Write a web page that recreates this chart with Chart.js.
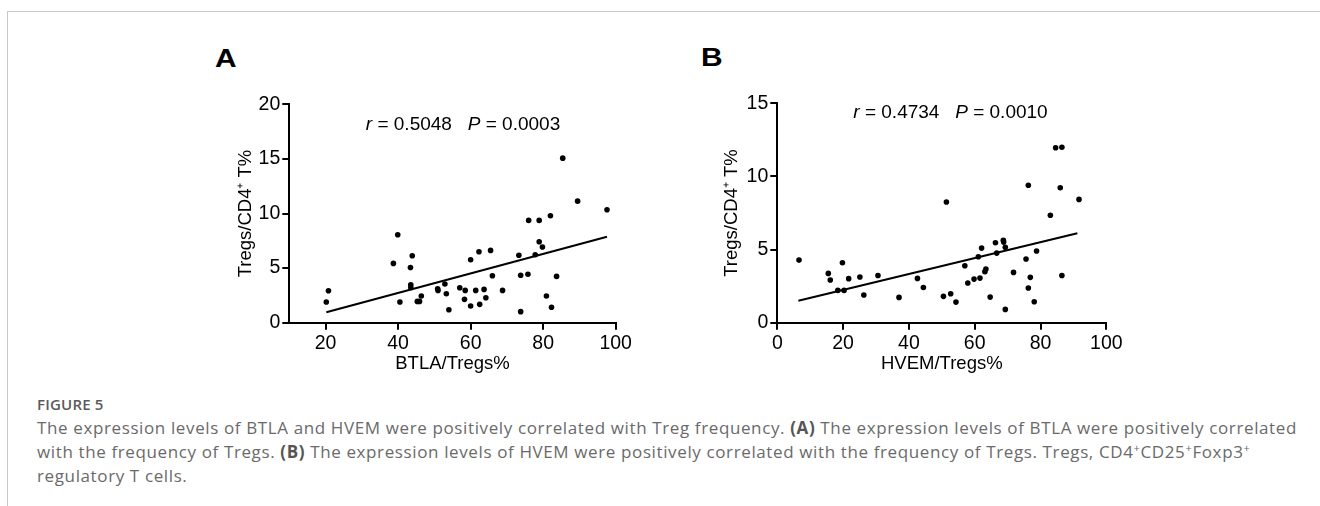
<!DOCTYPE html>
<html>
<head>
<meta charset="utf-8">
<script src="https://cdn.jsdelivr.net/npm/chart.js@4"></script>
<style>
  html, body { margin: 0; padding: 0; background: #fff; }
  body { width: 1320px; height: 506px; position: relative; overflow: hidden; }
  .frame { position: absolute; left: 7px; top: 11px; right: -2px; bottom: -2px;
           border-left: 1px solid #c8c8c8; border-top: 1px solid #c8c8c8; }
  .panel-label { position: absolute; font: bold 26px "Liberation Sans", Arial, sans-serif;
                 transform: scaleX(1.15); transform-origin: left top; color: #000; }
  canvas { position: absolute; }
  .caption { position: absolute; left: 37px; top: 392px; color: #6a6a6a;
             font-family: "Open Sans", sans-serif; font-size: 17px; letter-spacing: 0.62px; white-space: nowrap; }
  .caption .fig { color: #5a5a5a; font-weight: 600; font-size: 15px; letter-spacing: 0.2px; line-height: 24px; }
  .caption .line { line-height: 24px; height: 24px; }
  .caption b { color: #555; }
  .caption sup { font-size: 11px; line-height: 0; vertical-align: 6px; }
</style>
</head>
<body>
<div class="frame"></div>
<div class="panel-label" style="left:215px; top:43px;">A</div>
<div class="panel-label" style="left:701px; top:42px;">B</div>
<canvas id="chartA" width="440" height="300" style="left:200px; top:80px;"></canvas>
<canvas id="chartB" width="440" height="300" style="left:690px; top:80px;"></canvas>
<div class="caption">
  <div class="fig">FIGURE 5</div>
  <div class="line">The expression levels of BTLA and HVEM were positively correlated with Treg frequency. <b>(A)</b> The expression levels of BTLA were positively correlated</div>
  <div class="line">with the frequency of Tregs. <b>(B)</b> The expression levels of HVEM were positively correlated with the frequency of Tregs. Tregs, CD4<sup>+</sup>CD25<sup>+</sup>Foxp3<sup>+</sup></div>
  <div class="line">regulatory T cells.</div>
</div>
<script>
// Panel A: BTLA/Tregs% vs Tregs/CD4+ T%
const btlaX = [20.2, 20.8, 38.7, 39.9, 40.5, 43.4, 43.5, 43.5, 43.9, 45.3, 45.9, 46.4, 50.9, 51.0, 52.9, 53.3,
  54.0, 57.0, 58.3, 58.5, 60.0, 60.0, 61.4, 62.3, 62.5, 63.7, 64.2, 65.5, 66.0, 68.8, 73.3, 73.8, 73.8,
  75.8, 76.0, 77.8, 78.9, 78.9, 79.8, 80.9, 82.0, 82.3, 83.7, 85.4, 89.5, 97.6];
const btlaY = [1.89, 2.93, 5.43, 8.05, 1.89, 5.06, 3.48, 3.23, 6.13, 1.95, 1.95, 2.44, 3.11, 2.96, 3.54, 2.65,
  1.19, 3.20, 2.14, 2.96, 5.77, 1.53, 2.96, 6.50, 1.68, 3.05, 2.29, 6.62, 4.30, 2.96, 6.17, 4.34, 1.01,
  4.43, 9.37, 6.22, 9.37, 7.41, 6.93, 2.44, 9.79, 1.41, 4.24, 15.07, 11.13, 10.34];
const btlaFitX = [20.2, 97.6];
const btlaFitY = [0.95, 7.87];
const btlaXTicks = [20, 40, 60, 80, 100];
const btlaYTicks = [0, 5, 10, 15, 20];

// Panel B: HVEM/Tregs% vs Tregs/CD4+ T%
const hvemX = [6.6, 15.5, 16.1, 18.4, 19.8, 20.3, 21.7, 25.1, 26.3, 30.6, 37.0, 42.6, 44.4, 50.5, 51.4,
  52.7, 54.3, 57.0, 57.9, 59.8, 61.1, 61.6, 62.1, 63.1, 63.4, 64.7, 66.3, 66.7, 68.7, 68.8, 69.3, 69.3,
  71.8, 75.6, 76.3, 76.3, 76.9, 78.1, 78.8, 83.0, 84.6, 86.0, 86.5, 86.5, 91.7];
const hvemY = [4.28, 3.37, 2.92, 2.21, 4.10, 2.21, 3.01, 3.12, 1.89, 3.23, 1.73, 3.03, 2.41, 1.80, 8.25,
  1.98, 1.41, 3.89, 2.71, 2.98, 4.51, 3.05, 5.10, 3.49, 3.67, 1.75, 5.47, 4.76, 5.63, 5.51, 5.15, 0.91,
  3.44, 4.35, 9.40, 2.37, 3.10, 1.43, 4.90, 7.35, 11.96, 9.23, 12.00, 3.23, 8.43];
const hvemFitX = [6.4, 91.2];
const hvemFitY = [1.50, 6.11];
const hvemXTicks = [0, 20, 40, 60, 80, 100];
const hvemYTicks = [0, 5, 10, 15];

const FONT = '"Liberation Sans", Arial, sans-serif';

// draws "r = ...   P = ..." with italic r and P
const statsText = {
  id: "statsText",
  afterDatasetsDraw(chart, args, opts) {
    const { ctx, scales } = chart;
    let px = scales.x.getPixelForValue(opts.at[0]);
    const py = scales.y.getPixelForValue(opts.at[1]);
    const parts = [
      ["r", true], [" = " + opts.r, false], ["   ", false],
      ["P", true], [" = " + opts.p, false],
    ];
    ctx.save();
    ctx.fillStyle = "#000";
    ctx.textBaseline = "middle";
    for (const [txt, italic] of parts) {
      ctx.font = (italic ? "italic " : "") + "19px " + FONT;
      ctx.fillText(txt, px, py);
      px += ctx.measureText(txt).width;
    }
    ctx.restore();
  },
};

function makeChart(id, xs, ys, fitX, fitY, opt) {
  const pts = xs.map((x, i) => ({ x: x, y: ys[i] }));
  const fit = fitX.map((x, i) => ({ x: x, y: fitY[i] }));
  const axis = (min, max, ticks, title, titlePad) => ({
    type: "linear",
    min: min,
    max: max,
    afterBuildTicks: (s) => { s.ticks = ticks.map((v) => ({ value: v })); },
    grid: { drawOnChartArea: false, drawTicks: true, tickLength: 7, color: "#000", lineWidth: 2 },
    border: { display: true, color: "#000", width: 2 },
    ticks: { color: "#000", padding: 2, font: { family: FONT, size: 19.5 } },
    title: { display: true, text: title, color: "#000", padding: titlePad, font: { family: FONT, size: 18.5 } },
  });
  const xAxis = axis(opt.xMin, opt.xMax, opt.xTicks, opt.xTitle, { bottom: 5 });
  xAxis.afterFit = (s) => { s.height = opt.xHeight; };
  const yAxis = axis(0, opt.yMax, opt.yTicks, "Tregs/CD4\u207A T%", { top: opt.yTitlePad });
  yAxis.afterFit = (s) => { s.width = opt.yWidth; };

  return new Chart(document.getElementById(id).getContext("2d"), {
    type: "scatter",
    data: {
      datasets: [
        {
          data: pts,
          backgroundColor: "#000",
          borderColor: "#000",
          pointRadius: 2.8,
          pointBorderWidth: 0,
        },
        {
          data: fit,
          showLine: true,
          borderColor: "#000",
          borderWidth: 2,
          pointRadius: 0,
        },
      ],
    },
    options: {
      responsive: false,
      animation: false,
      events: [],
      layout: { padding: opt.padding },
      plugins: {
        legend: { display: false },
        tooltip: { enabled: false },
        statsText: opt.stats,
      },
      scales: { x: xAxis, y: yAxis },
    },
    plugins: [statsText],
  });
}

makeChart("chartA", btlaX, btlaY, btlaFitX, btlaFitY, {
  xMin: 10, xMax: 100, xTicks: btlaXTicks, xTitle: "BTLA/Tregs%",
  yMax: 20, yTicks: btlaYTicks, yTitlePad: 35,
  xHeight: 57.3, yWidth: 89.3,
  padding: { top: 24.3, right: 24.3, left: 0, bottom: 0 },
  stats: { at: [31.1, 18.1], r: "0.5048", p: "0.0003" },
});

makeChart("chartB", hvemX, hvemY, hvemFitX, hvemFitY, {
  xMin: 0, xMax: 100, xTicks: hvemXTicks, xTitle: "HVEM/Tregs%",
  yMax: 15, yTicks: hvemYTicks, yTitlePad: 31,
  xHeight: 57.3, yWidth: 87.3,
  padding: { top: 23.3, right: 23.7, left: 0, bottom: 0 },
  stats: { at: [23.1, 14.35], r: "0.4734", p: "0.0010" },
});
</script>
</body>
</html>
